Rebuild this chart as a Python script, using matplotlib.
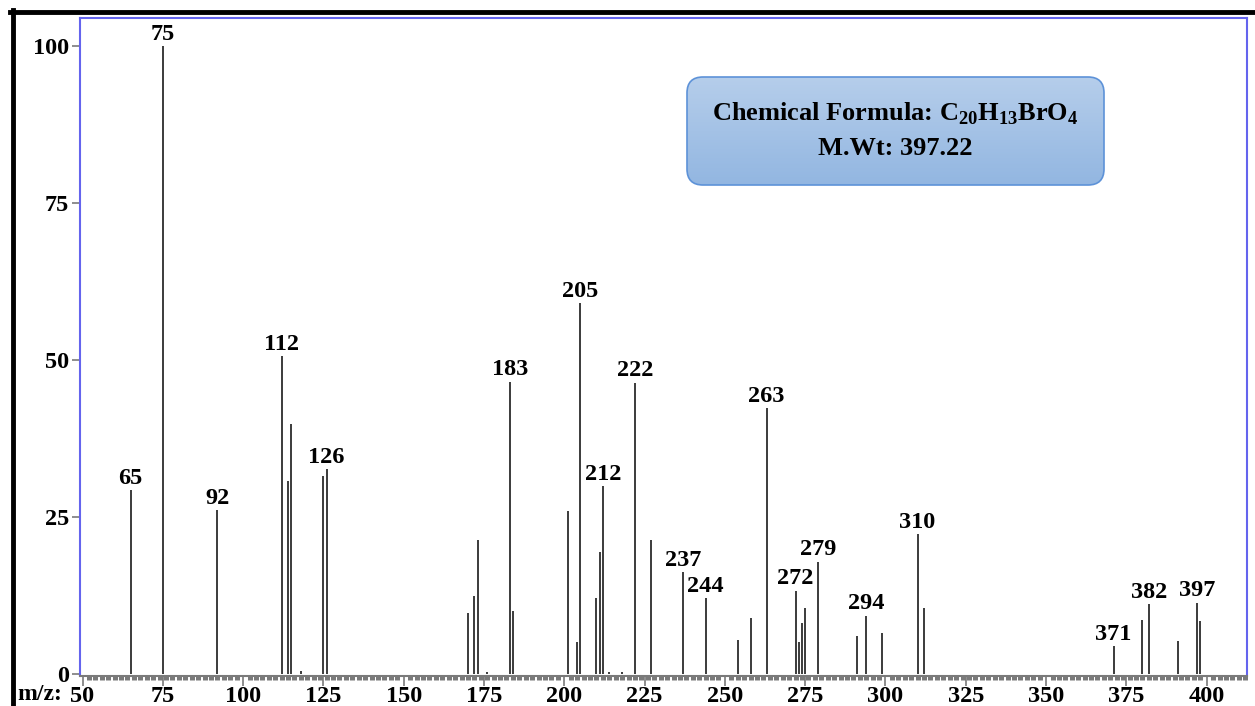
import matplotlib
matplotlib.use("Agg")
import matplotlib.pyplot as plt
import numpy as np
from matplotlib.patches import FancyBboxPatch
from matplotlib.lines import Line2D
from matplotlib.ticker import MultipleLocator

plt.rcParams['font.family'] = ['Liberation Serif', 'DejaVu Serif']
plt.rcParams['font.weight'] = 'bold'

# ---- data ----
mz = [65, 75, 92, 112, 114, 115, 118, 125, 126, 170, 172, 173, 176, 183, 184,
      201, 204, 205, 210, 211, 212, 214, 218, 222, 227, 237, 244, 254, 258, 263,
      272, 273, 274, 275, 279, 291, 294, 299, 310, 312, 371, 380, 382, 391, 397, 398]
intensity = [29.3, 100, 26.1, 50.6, 30.7, 39.9, 0.5, 31.6, 32.6, 9.7, 12.4, 21.4, 0.4, 46.6, 10.0,
             26.0, 5.1, 59.1, 12.1, 19.4, 29.9, 0.3, 0.4, 46.4, 21.3, 16.2, 12.1, 5.5, 9.0, 42.4,
             13.3, 5.1, 8.2, 10.5, 17.9, 6.1, 9.3, 6.6, 22.3, 10.5, 4.4, 8.6, 11.1, 5.3, 11.4, 8.5]
labeled = [65, 75, 92, 112, 126, 183, 205, 212, 222, 237, 244, 263, 272, 279, 294, 310, 371, 382, 397]
x_ticks = [50, 75, 100, 125, 150, 175, 200, 225, 250, 275, 300, 325, 350, 375, 400]
y_ticks = [0, 25, 50, 75, 100]
formula_line = "Chemical Formula: C$_\\mathregular{20}$H$_\\mathregular{13}$BrO$_\\mathregular{4}$"
mw_line = "M.Wt: 397.22"

W, H = 1255, 706
fig = plt.figure(figsize=(W / 100, H / 100), dpi=100)
ax = fig.add_axes([80 / W, 1 - 676 / H, (1247 - 80) / W, (676 - 18) / H])

ax.vlines(mz, 0, intensity, colors='#1a1a1a', linewidth=1.2)
for m, v in zip(mz, intensity):
    if m in labeled:
        ax.annotate(str(m), (m, v), xytext=(0, 1.0), textcoords='offset points',
                    ha='center', va='bottom', fontsize=17.5, fontweight='bold', color='black')

ax.set_xlim(49.22, 412.55)
ax.set_ylim(-0.3, 104.5)

spine_blue = '#6464ee'
for s in ['left', 'top', 'right']:
    ax.spines[s].set_color(spine_blue)
    ax.spines[s].set_linewidth(1.5)
ax.spines['bottom'].set_color('#7a7a7a')
ax.spines['bottom'].set_linewidth(1.5)

ax.set_xticks(x_ticks)
ax.set_xticklabels([str(t) for t in x_ticks])
ax.set_yticks(y_ticks)
ax.set_yticklabels([str(t) for t in y_ticks])
ax.xaxis.set_minor_locator(MultipleLocator(2))
ax.tick_params(axis='x', which='major', direction='out', length=7, width=1.2,
               color='#7a7a7a', labelsize=17.5, pad=0)
ax.tick_params(axis='x', which='minor', direction='out', length=3, width=3.6,
               color='#7a7a7a')
ax.tick_params(axis='y', which='major', direction='out', length=6, width=1.2,
               color='#7a7a7a', labelsize=17.5, pad=2)
for lab in ax.get_xticklabels() + ax.get_yticklabels():
    lab.set_fontweight('bold')

fig.text(17 / W, 1 - 695 / H, "m/z:", ha='left', va='center', fontsize=17, fontweight='bold')

# ---- info box with gradient ----
bx0, by0, bx1, by1 = 686, 76, 1105, 186
bw, bh = bx1 - bx0, by1 - by0
bax = fig.add_axes([bx0 / W, 1 - by1 / H, bw / W, bh / H])
bax.set_xlim(0, bw)
bax.set_ylim(0, bh)
bax.axis('off')
patch = FancyBboxPatch((1, 1), bw - 2, bh - 2, boxstyle='round,pad=0,rounding_size=16',
                       facecolor='none', edgecolor='#5d92d8', linewidth=1.2, zorder=3)
bax.add_patch(patch)
grad = np.linspace(0, 1, 256).reshape(-1, 1)
top_c = np.array([0xb6, 0xce, 0xeb]) / 255
bot_c = np.array([0x92, 0xb6, 0xe1]) / 255
img = top_c[None, None, :] * (1 - grad[:, :, None]) + bot_c[None, None, :] * grad[:, :, None]
im = bax.imshow(img, extent=[0, bw, 0, bh], aspect='auto', origin='upper', zorder=1)
im.set_clip_path(patch)
bax.text(0.499, 0.66, formula_line, transform=bax.transAxes, ha='center', va='center',
         fontsize=19, fontweight='bold', color='black', zorder=4)
bax.text(0.499, 0.34, mw_line, transform=bax.transAxes, ha='center', va='center',
         fontsize=19, fontweight='bold', color='black', zorder=4)

# ---- outer black frame ----
fig.add_artist(Line2D([10 / W, 1], [1 - 12 / H, 1 - 12 / H], transform=fig.transFigure,
                      color='black', linewidth=3.5))
fig.add_artist(Line2D([12.5 / W, 12.5 / W], [0, 1 - 10 / H], transform=fig.transFigure,
                      color='black', linewidth=3.5))

fig.savefig("out.png", dpi=100)
